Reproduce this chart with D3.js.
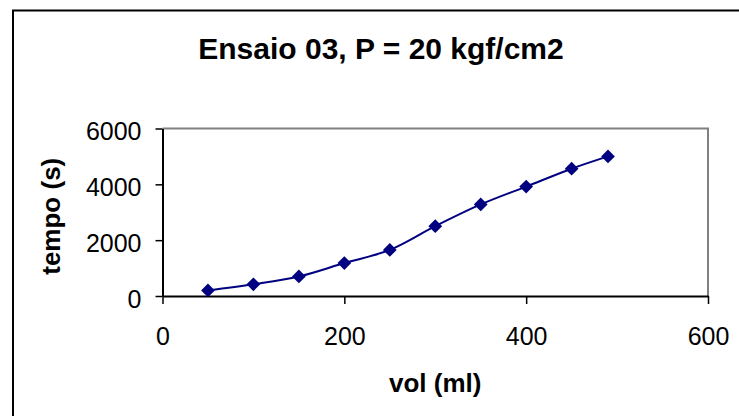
<!DOCTYPE html>
<html>
<head>
<meta charset="utf-8">
<script src="https://cdn.jsdelivr.net/npm/d3@7"></script>
<style>
  body { margin: 0; background: #fff; }
  text { font-family: "Liberation Sans", Arial, sans-serif; }
</style>
</head>
<body>
<div id="chart"></div>
<script>
// data
let volumes = [50, 100, 150, 200, 250, 300, 350, 400, 450, 490];
let tempos = [200, 420, 700, 1180, 1650, 2500, 3280, 3920, 4560, 5000];
let xTicks = [0, 200, 400, 600];
let yTicks = [0, 2000, 4000, 6000];

let data = volumes.map((v, i) => ({vol: v, tempo: tempos[i]}));

let W = 739, H = 416;
let margin = {top: 128.5, right: 31, bottom: 120, left: 162.5};
let width = W - margin.left - margin.right;
let height = H - margin.top - margin.bottom;

let svg = d3.select("#chart")
    .append("svg")
    .attr("width", W)
    .attr("height", H);

// outer chart border (right and bottom fall off the picture)
svg.append("rect")
    .attr("x", 13)
    .attr("y", 10.5)
    .attr("width", W + 20)
    .attr("height", H + 20)
    .attr("fill", "#fff")
    .attr("stroke", "#000")
    .attr("stroke-width", 2);

svg.append("text")
    .attr("text-anchor", "middle")
    .attr("x", 381)
    .attr("y", 59)
    .style("font-size", "30px")
    .style("font-weight", "bold")
    .text("Ensaio 03, P = 20 kgf/cm2");

let g = svg.append("g")
    .attr("transform", "translate(" + margin.left + "," + margin.top + ")");

let xScale = d3.scaleLinear().domain([0, 600]).range([0, width]);
let yScale = d3.scaleLinear().domain([0, 6000]).range([height, 0]);

// plot area frame (gray top/right)
g.append("path")
    .attr("d", `M0,0H${width}V${height}`)
    .attr("fill", "none")
    .attr("stroke", "#808080")
    .attr("stroke-width", 2);

let xAxis = d3.axisBottom(xScale).tickValues(xTicks).tickFormat(d3.format("d")).tickSize(8).tickSizeOuter(0);
let yAxis = d3.axisLeft(yScale).tickValues(yTicks).tickFormat(d3.format("d")).tickSize(7).tickSizeOuter(0);

let gx = g.append("g")
    .attr("transform", `translate(0, ${height})`)
    .call(xAxis);
gx.select(".domain").attr("stroke-width", 2);
gx.selectAll(".tick line").attr("stroke-width", 1.5);
gx.selectAll(".tick text")
    .attr("y", 49)
    .attr("dy", 0)
    .style("font-size", "25px")
    .style("font-family", "Liberation Sans, Arial, sans-serif");

let gy = g.append("g").call(yAxis);
gy.select(".domain").attr("stroke-width", 2);
gy.selectAll(".tick line").attr("stroke-width", 1.5);
gy.selectAll(".tick text")
    .attr("x", -21)
    .attr("dy", "0.44em")
    .style("font-size", "25px")
    .style("font-family", "Liberation Sans, Arial, sans-serif");

// axis titles
g.append("text")
    .attr("text-anchor", "middle")
    .attr("x", width / 2)
    .attr("y", height + 96)
    .style("font-size", "26px")
    .style("font-weight", "bold")
    .text("vol (ml)");

g.append("text")
    .attr("text-anchor", "middle")
    .attr("transform", `translate(-103, ${height / 2 + 4}) rotate(-90)`)
    .style("font-size", "26px")
    .style("font-weight", "bold")
    .text("tempo (s)");

let line = d3.line()
    .x(d => xScale(d.vol))
    .y(d => yScale(d.tempo))
    .curve(d3.curveCatmullRom.alpha(0.5));

g.append("path")
    .datum(data)
    .attr("fill", "none")
    .attr("stroke", "#000080")
    .attr("stroke-width", 2)
    .attr("d", line);

g.selectAll(".marker")
    .data(data)
    .enter()
    .append("path")
    .attr("class", "marker")
    .attr("d", d3.symbol().type(d3.symbolDiamond2).size(120))
    .attr("transform", d => `translate(${xScale(d.vol)}, ${yScale(d.tempo)})`)
    .attr("fill", "#000080");
</script>
</body>
</html>
